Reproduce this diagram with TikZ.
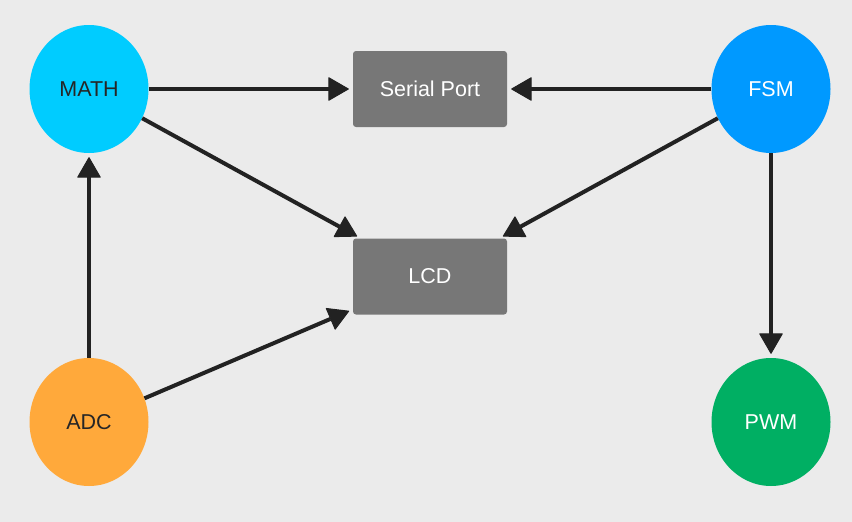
\documentclass[tikz,border=0pt]{standalone}
\usepackage{fontspec}
\setmainfont{Liberation Sans}
\usetikzlibrary{shapes.geometric,arrows.meta}

\definecolor{bgcol}{HTML}{EBEBEB}
\definecolor{mathcol}{HTML}{00CCFF}
\definecolor{fsmcol}{HTML}{0099FF}
\definecolor{pwmcol}{HTML}{00AF63}
\definecolor{adccol}{HTML}{FFA93B}
\definecolor{boxcol}{HTML}{777777}
\definecolor{linecol}{HTML}{222222}

\tikzset{
  blob/.style={ellipse, minimum width=119pt, minimum height=128pt, inner sep=0pt,
    font=\fontsize{21.5}{25}\selectfont},
  portbox/.style={rectangle, rounded corners=3pt, fill=boxcol, text=white,
    minimum width=154pt, minimum height=76pt, inner sep=0pt,
    font=\fontsize{21.5}{25}\selectfont},
  link/.style={-{Triangle[length=21pt,width=24pt,line width=1pt,fill=linecol,round]},
    line width=4pt, draw=linecol, shorten >=4pt}
}

\begin{document}
\begin{tikzpicture}[x=1pt,y=-1pt]
        % Background
        \fill[bgcol] (0,0) rectangle (852,522);
        \useasboundingbox (0,0) rectangle (852,522);

        % Define nodes
        \node[blob, fill=mathcol, text=black!85] (math) at (89,89) {MATH};
        \node[blob, fill=fsmcol, text=white] (fsm) at (771,89) {FSM};
        \node[blob, fill=adccol, text=black!85] (adc) at (89,422) {ADC};
        \node[blob, fill=pwmcol, text=white] (pwm) at (771,422) {PWM};
        \node[portbox] (serial) at (430,89) {Serial Port};
        \node[portbox] (lcd) at (430,276.5) {LCD};

        % Draw connections
        \draw[link] (math) -- (serial);
        \draw[link] (fsm) -- (serial);
        \draw[link] (math) -- (lcd);
        \draw[link] (fsm) -- (lcd);
        \draw[link] (adc) -- (lcd);
        \draw[link] (adc) -- (math);
        \draw[link] (fsm) -- (pwm);
    \end{tikzpicture}
\end{document}
